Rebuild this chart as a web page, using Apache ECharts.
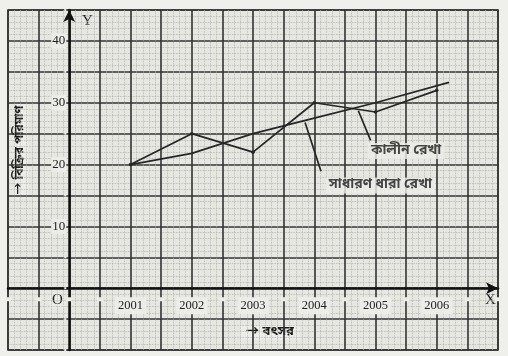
<!DOCTYPE html>
<html>
<head>
<meta charset="utf-8">
<script src="https://cdn.jsdelivr.net/npm/echarts@6/dist/echarts.min.js"></script>
<style>
html,body{margin:0;padding:0;background:#efefeb;}
#c{width:508px;height:356px;}
</style>
</head>
<body>
<div id="c"></div>
<script>
// Data
const years = [2001, 2002, 2003, 2004, 2005, 2006];
const kalinValues = [20, 25, 22, 30, 28.5, 32];            // কালীন রেখা (time series)
const trendYears = [2001, 2002, 2003, 2004, 2005, 2006.2];
const trendValues = [20, 21.8, 25, 27.5, 30, 33.3];         // সাধারণ ধারা রেখা (trend)
const yTickLabels = [10, 20, 30, 40];
const xTickLabels = years;

const bnFont = "'Noto Sans Bengali','Noto Sans','Noto Sans CJK SC',sans-serif";
const serif = "'Liberation Serif','DejaVu Serif',serif";
const ink = '#262626';

const chart = echarts.init(document.getElementById('c'));
chart.setOption({
  backgroundColor: '#efefeb',
  animation: false,
  grid: {left: 8, right: 10, top: 10, bottom: 6, show: true, backgroundColor: '#e7e7e2', borderColor: '#333', borderWidth: 1.5},
  xAxis: {
    type: 'value', min: 1999, max: 2007, interval: 0.5,
    offset: -61.75,
    axisLine: {show: true, lineStyle: {color: '#111', width: 2.5}, symbol: ['none', 'arrow'], symbolSize: [9, 12]},
    axisTick: {show: false},
    axisLabel: {
      margin: 9,
      formatter: v => xTickLabels.indexOf(v) >= 0 ? String(v) : '',
      fontFamily: serif, fontSize: 12.5, color: '#222',
      backgroundColor: '#ecece8', padding: [2, 3]
    },
    splitLine: {show: true, lineStyle: {color: '#333', width: 1.6}},
    minorSplitLine: {show: true, lineStyle: {color: '#b0b0ab', width: 0.8, type: 'dotted'}},
    minorTick: {show: false, splitNumber: 5}
  },
  yAxis: {
    type: 'value', min: -10, max: 45, interval: 5,
    offset: -61.25,
    axisLine: {show: true, lineStyle: {color: '#111', width: 2.5}, symbol: ['none', 'arrow'], symbolSize: [9, 12]},
    axisTick: {show: false},
    axisLabel: {
      margin: 3,
      formatter: v => yTickLabels.indexOf(v) >= 0 ? String(v) : '',
      fontFamily: serif, fontSize: 13, color: '#222',
      backgroundColor: '#ecece8', padding: [1, 1]
    },
    splitLine: {show: true, lineStyle: {color: '#333', width: 1.6}},
    minorSplitLine: {show: true, lineStyle: {color: '#b0b0ab', width: 0.8, type: 'dotted'}},
    minorTick: {show: false, splitNumber: 5}
  },
  series: [
    {
      type: 'line', name: 'কালীন রেখা',
      data: years.map((y, i) => [y, kalinValues[i]]),
      symbol: 'circle', symbolSize: 3.5,
      itemStyle: {color: ink},
      lineStyle: {color: ink, width: 1.7},
      markLine: {
        silent: true, symbol: ['none', 'none'],
        lineStyle: {color: ink, width: 1.7, type: 'solid'},
        label: {show: false},
        data: [
          [{coord: [2003.85, 26.8]}, {coord: [2004.11, 18.9]}],
          [{coord: [2004.72, 28.7]}, {coord: [2004.92, 23.9]}]
        ]
      }
    },
    {
      type: 'line', name: 'সাধারণ ধারা রেখা',
      data: trendYears.map((y, i) => [y, trendValues[i]]),
      symbol: 'none',
      lineStyle: {color: ink, width: 1.7}
    },
    {
      type: 'scatter', symbolSize: 0, silent: true,
      data: [
        {value: [2005.08, 16.6], name: 'সাধারণ ধারা রেখা'},
        {value: [2005.5, 22.2], name: 'কালীন রেখা'}
      ],
      label: {
        show: true, position: 'inside', formatter: p => p.name,
        fontFamily: bnFont, fontSize: 14, fontWeight: 'bold', color: '#1a1a1a',
        backgroundColor: '#ecece8', padding: [1, 3]
      }
    }
  ],
  graphic: [
    {type: 'text', left: 82, top: 14, style: {text: 'Y', font: '15px ' + serif, fill: '#222'}},
    {type: 'text', left: 485, top: 293, style: {text: 'X', font: '15px ' + serif, fill: '#222'}},
    {type: 'text', left: 50, top: 293, style: {text: 'O', font: '15px ' + serif, fill: '#222', backgroundColor: '#ecece8', padding: [0, 2]}},
    {type: 'text', left: 240, top: 325, style: {text: '→ বৎসর', font: 'bold 13px ' + bnFont, fill: '#1a1a1a', backgroundColor: '#ecece8', padding: [1, 6]}},
    {type: 'text', x: 21, y: 150, rotation: Math.PI / 2,
     style: {text: '→ বিক্রির পরিমাণ', font: 'bold 12px ' + bnFont, fill: '#1a1a1a', align: 'center', verticalAlign: 'middle', backgroundColor: '#ecece8', padding: [1, 3]}}
  ]
});
</script>
</body>
</html>
